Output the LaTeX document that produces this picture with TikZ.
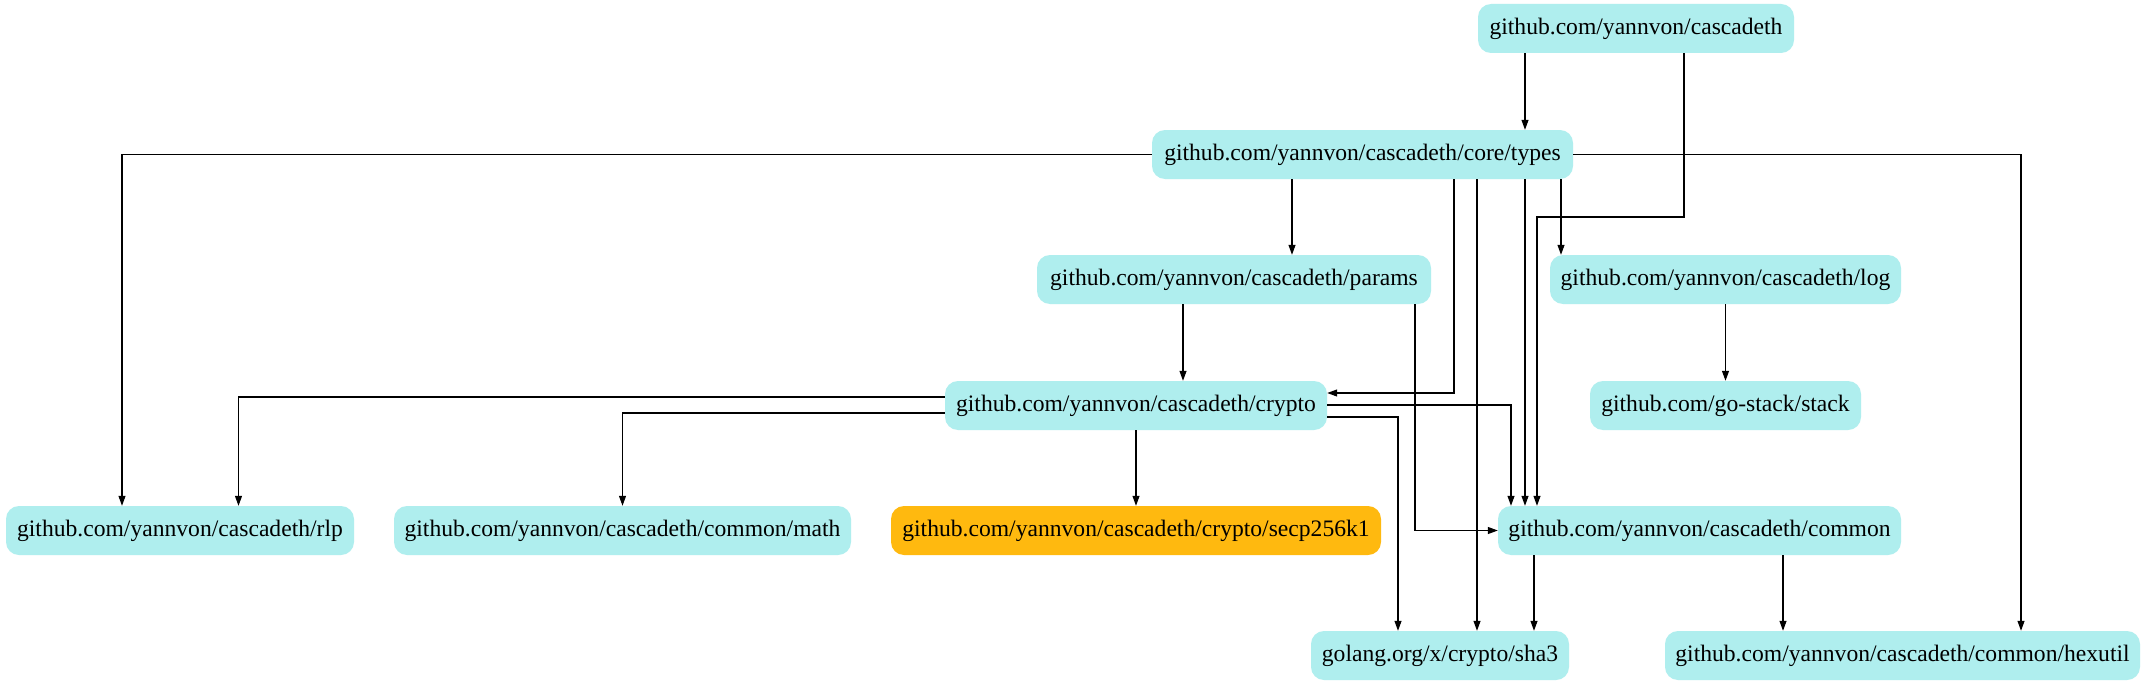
\documentclass[tikz,border=0pt]{standalone}
\usepackage{fontspec}
\setmainfont{Liberation Serif}
\usetikzlibrary{arrows.meta}
\definecolor{pkg}{RGB}{175,238,238}
\definecolor{hl}{RGB}{255,185,15}
\begin{document}
\begin{tikzpicture}[x=1pt,y=-1pt,
  pkgnode/.style={fill=pkg, rounded corners=13pt, minimum height=49pt, inner sep=0pt,
    font=\fontsize{23.6}{28}\selectfont},
  hlnode/.style={pkgnode, fill=hl},
  arr/.style={-{Triangle[length=10pt,width=7pt]}, line width=1.1pt}]
\fill[white] (0,0) rectangle (2145,685);
\useasboundingbox (0,0) rectangle (2145,685);

\node[pkgnode, minimum width=316pt] (cascadeth) at (1636,28.5) {github.com/yannvon/cascadeth};
\node[pkgnode, minimum width=421pt] (types) at (1362.5,154.5) {github.com/yannvon/cascadeth/core/types};
\node[pkgnode, minimum width=394pt] (params) at (1234,279.5) {github.com/yannvon/cascadeth/params};
\node[pkgnode, minimum width=351pt] (log) at (1725.5,279.5) {github.com/yannvon/cascadeth/log};
\node[pkgnode, minimum width=382pt] (crypto) at (1136,405.5) {github.com/yannvon/cascadeth/crypto};
\node[pkgnode, minimum width=271pt] (stack) at (1725.5,405.5) {github.com/go-stack/stack};
\node[pkgnode, minimum width=348pt] (rlp) at (180,530.5) {github.com/yannvon/cascadeth/rlp};
\node[pkgnode, minimum width=457pt] (math) at (622.5,530.5) {github.com/yannvon/cascadeth/common/math};
\node[hlnode, minimum width=490pt] (secp) at (1136,530.5) {github.com/yannvon/cascadeth/crypto/secp256k1};
\node[pkgnode, minimum width=403pt] (common) at (1699.5,530.5) {github.com/yannvon/cascadeth/common};
\node[pkgnode, minimum width=258pt] (sha3) at (1440,655.5) {golang.org/x/crypto/sha3};
\node[pkgnode, minimum width=475pt] (hexutil) at (1902.5,655.5) {github.com/yannvon/cascadeth/common/hexutil};

% cascadeth
\draw[arr] (cascadeth.south -| 1525,0) -- (types.north -| 1525,0);
\draw[arr] (cascadeth.south -| 1684,0) -- (1684,217) -- (1537,217) -- (common.north -| 1537,0);
% core/types
\draw[arr] (types.west) -- (122,154.5) -- (rlp.north -| 122,0);
\draw[arr] (types.south -| 1292,0) -- (params.north -| 1292,0);
\draw[arr] (types.south -| 1454,0) -- (1454,393) -- (crypto.east |- 0,393);
\draw[arr] (types.south -| 1477,0) -- (sha3.north -| 1477,0);
\draw[arr] (types.south -| 1525,0) -- (common.north -| 1525,0);
\draw[arr] (types.south -| 1561,0) -- (log.north -| 1561,0);
\draw[arr] (types.east) -- (2021,154.5) -- (hexutil.north -| 2021,0);
% params
\draw[arr] (params.south -| 1183,0) -- (crypto.north -| 1183,0);
\draw[arr] (params.south -| 1415,0) -- (1415,530.5) -- (common.west);
% log
\draw[arr] (log.south) -- (stack.north);
% crypto
\draw[arr] (crypto.west |- 0,397) -- (238.5,397) -- (rlp.north -| 238.5,0);
\draw[arr] (crypto.west |- 0,413) -- (622.5,413) -- (math.north);
\draw[arr] (crypto.south) -- (secp.north);
\draw[arr] (crypto.east |- 0,405) -- (1511,405) -- (common.north -| 1511,0);
\draw[arr] (crypto.east |- 0,417) -- (1398,417) -- (sha3.north -| 1398,0);
% common
\draw[arr] (common.south -| 1534,0) -- (sha3.north -| 1534,0);
\draw[arr] (common.south -| 1783,0) -- (hexutil.north -| 1783,0);
\end{tikzpicture}
\end{document}
